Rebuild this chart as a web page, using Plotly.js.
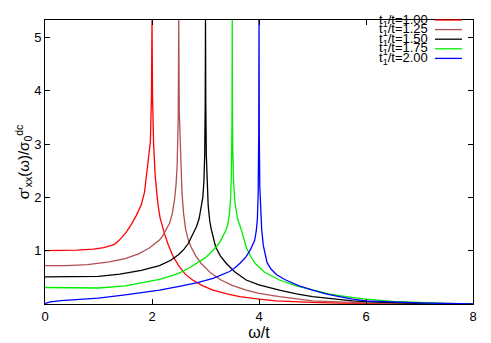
<!DOCTYPE html>
<html>
<head>
<meta charset="utf-8">
<script src="https://cdn.plot.ly/plotly-3.0.1.min.js"></script>
<style>
  html, body { margin: 0; padding: 0; background: #fff; }
  #graph { width: 491px; height: 343px; }
</style>
</head>
<body>
<div id="graph"></div>
<script>
// Valores (ω/t, σ'xx/σ0dc)
const labels = ['t<sub>1</sub>/t=1.00', 't<sub>1</sub>/t=1.25', 't<sub>1</sub>/t=1.50', 't<sub>1</sub>/t=1.75', 't<sub>1</sub>/t=2.00'];
const colors = ['#ff0000', '#b05050', '#000000', '#00ee00', '#0000ff'];

const wRed = [0, 0.3, 0.6, 0.9, 1.1, 1.3, 1.39, 1.52, 1.6, 1.7, 1.8, 1.86, 1.9, 1.94, 1.97, 1.99, 2.0,
              2.01, 2.03, 2.06, 2.09, 2.11, 2.15, 2.19, 2.23, 2.3, 2.39, 2.51, 2.62, 2.76, 2.95, 3.14, 3.4, 3.64, 4.0, 4.32, 4.7, 5.0, 5.5, 6.0, 7.0, 8.0];
const sRed = [1.0, 1.0, 1.01, 1.03, 1.06, 1.12, 1.2, 1.35, 1.47, 1.65, 1.86, 2.1, 2.42, 2.75, 3.05, 3.9, 5.33,
              3.9, 3.0, 2.4, 2.05, 1.88, 1.62, 1.45, 1.33, 1.12, 0.9, 0.7, 0.56, 0.45, 0.34, 0.26, 0.19, 0.14, 0.09, 0.06, 0.04, 0.03, 0.018, 0.01, 0.004, 0];

const wBrown = [0, 0.4, 0.8, 1.2, 1.5, 1.75, 1.95, 2.14, 2.2, 2.28, 2.33, 2.38, 2.42, 2.45, 2.47, 2.49, 2.5,
                2.51, 2.53, 2.56, 2.59, 2.63, 2.68, 2.73, 2.82, 2.92, 3.1, 3.29, 3.5, 3.76, 4.0, 4.38, 5.0, 5.5, 6.0, 7.0, 8.0];
const sBrown = [0.72, 0.72, 0.74, 0.79, 0.85, 0.94, 1.05, 1.2, 1.28, 1.42, 1.52, 1.7, 1.95, 2.25, 2.6, 3.5, 5.33,
                3.6, 2.8, 2.1, 1.7, 1.39, 1.2, 1.07, 0.9, 0.76, 0.58, 0.45, 0.35, 0.26, 0.2, 0.14, 0.06, 0.035, 0.02, 0.006, 0];

const wBlack = [0, 0.5, 1.0, 1.4, 1.8, 2.14, 2.35, 2.5, 2.6, 2.68, 2.76, 2.83, 2.88, 2.92, 2.95, 2.97, 2.985, 2.995, 3.0,
                3.005, 3.015, 3.03, 3.05, 3.08, 3.11, 3.19, 3.28, 3.39, 3.55, 3.76, 4.0, 4.38, 4.7, 5.0, 5.4, 5.75, 6.2, 7.0, 8.0];
const sBlack = [0.51, 0.51, 0.52, 0.56, 0.63, 0.72, 0.82, 0.93, 1.03, 1.14, 1.3, 1.45, 1.6, 1.8, 2.0, 2.3, 2.8, 3.8, 5.33,
                3.8, 2.8, 2.2, 1.85, 1.55, 1.39, 1.07, 0.9, 0.76, 0.6, 0.45, 0.36, 0.26, 0.19, 0.14, 0.09, 0.06, 0.035, 0.012, 0];

const wGreen = [0, 0.5, 1.0, 1.5, 1.95, 2.14, 2.4, 2.51, 2.7, 2.83, 3.0, 3.14, 3.25, 3.32, 3.38, 3.42, 3.45, 3.47, 3.485, 3.495, 3.5,
                3.503, 3.51, 3.525, 3.55, 3.6, 3.67, 3.76, 3.84, 3.93, 4.1, 4.38, 4.7, 5.0, 5.3, 5.63, 6.0, 6.5, 7.0, 7.5, 8.0];
const sGreen = [0.31, 0.3, 0.3, 0.34, 0.42, 0.46, 0.54, 0.58, 0.68, 0.76, 0.87, 1.01, 1.13, 1.26, 1.38, 1.5, 1.72, 2.0, 2.5, 3.4, 5.33,
                3.8, 2.9, 2.3, 1.9, 1.6, 1.39, 1.07, 0.9, 0.76, 0.6, 0.45, 0.34, 0.26, 0.19, 0.14, 0.09, 0.05, 0.025, 0.01, 0];

const wBlue = [0, 0.1, 0.3, 0.6, 1.0, 1.5, 2.14, 2.51, 2.85, 3.14, 3.3, 3.45, 3.55, 3.65, 3.76, 3.84, 3.92, 3.95, 3.97, 3.985, 3.995, 4.0,
               4.005, 4.015, 4.03, 4.05, 4.08, 4.12, 4.15, 4.22, 4.33, 4.5, 4.75, 5.0, 5.25, 5.5, 5.75, 6.0, 6.5, 7.0, 7.5, 8.0];
const sBlue = [0.01, 0.04, 0.065, 0.085, 0.11, 0.17, 0.26, 0.33, 0.4, 0.48, 0.54, 0.61, 0.68, 0.77, 0.89, 1.02, 1.2, 1.38, 1.6, 2.1, 3.2, 5.33,
               3.2, 2.2, 1.7, 1.4, 1.1, 0.88, 0.78, 0.66, 0.55, 0.45, 0.34, 0.26, 0.19, 0.14, 0.09, 0.06, 0.035, 0.02, 0.01, 0];

const xTicks = [0, 2, 4, 6, 8];
const yTicks = [1, 2, 3, 4, 5];

const series = [[wRed, sRed], [wBrown, sBrown], [wBlack, sBlack], [wGreen, sGreen], [wBlue, sBlue]];

const traces = series.map((s, i) => ({
    x: s[0],
    y: s[1],
    type: 'scatter',
    mode: 'lines',
    name: labels[i],
    line: { color: colors[i], width: 1.3 },
    showlegend: false
}));

// Leyenda al estilo gnuplot: texto a la izquierda, muestra de línea a la derecha
const annotations = [];
const shapes = [];
labels.forEach((lab, i) => {
    const yy = 20 + i * 9.6;
    annotations.push({
        xref: 'paper', yref: 'paper',
        x: (430 - 45) / 428, y: 1 - (yy - 20) / 284,
        xanchor: 'right', yanchor: 'middle',
        text: lab, showarrow: false,
        font: { size: 13, color: '#000' }
    });
    shapes.push({
        type: 'line', xref: 'paper', yref: 'paper',
        x0: (435 - 45) / 428, x1: (462 - 45) / 428,
        y0: 1 - (yy - 20) / 284, y1: 1 - (yy - 20) / 284,
        line: { color: colors[i], width: 1.3 }
    });
});

const axisBase = {
    showgrid: false,
    zeroline: false,
    showline: true,
    linecolor: '#000',
    linewidth: 1,
    mirror: 'ticks',
    ticks: 'inside',
    ticklen: 5,
    tickcolor: '#000',
    tickfont: { size: 13, color: '#000' }
};

const layout = {
    width: 491,
    height: 343,
    margin: { l: 45, r: 18, t: 20, b: 39 },
    paper_bgcolor: '#fff',
    plot_bgcolor: '#fff',
    font: { family: 'Liberation Sans, Arial, sans-serif', color: '#000' },
    xaxis: Object.assign({}, axisBase, {
        range: [0, 8],
        tickvals: xTicks,
        ticktext: xTicks.map(String),
        title: { text: 'ω/t', font: { size: 16 }, standoff: 4 }
    }),
    yaxis: Object.assign({}, axisBase, {
        range: [0, 5.33],
        tickvals: yTicks,
        ticktext: yTicks.map(String),
        title: { text: 'σ′<sub>xx</sub>(ω)/σ<sub>0</sub><sup>dc</sup>', font: { size: 15 }, standoff: 0 }
    }),
    annotations: annotations,
    shapes: shapes
};

Plotly.newPlot('graph', traces, layout, { displayModeBar: false, staticPlot: true });
</script>
</body>
</html>
